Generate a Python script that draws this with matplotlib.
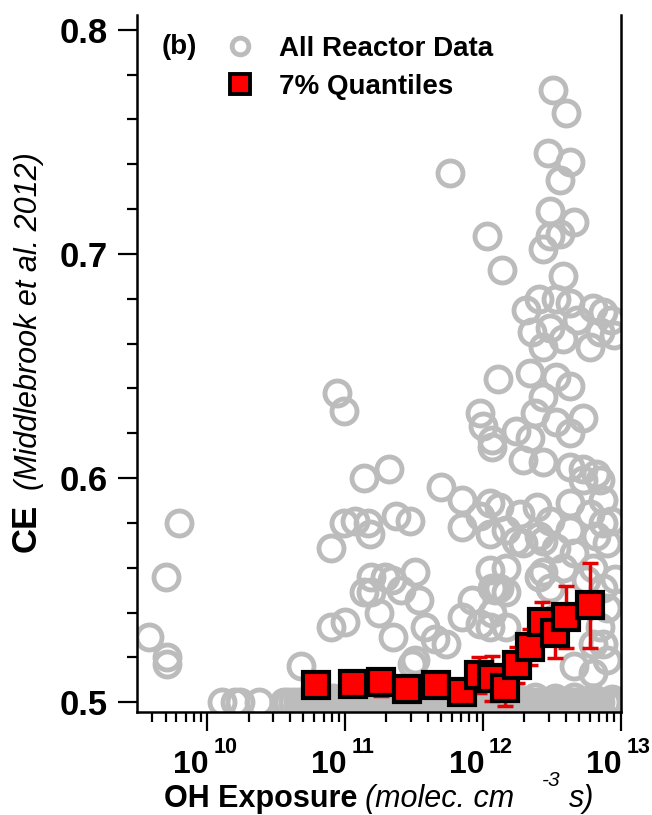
import numpy as np
import matplotlib
matplotlib.use('Agg')
import matplotlib.pyplot as plt
from matplotlib.ticker import MultipleLocator, FormatStrFormatter, LogLocator, NullFormatter
from matplotlib.lines import Line2D
from matplotlib.patches import Rectangle

plt.rcParams['font.family'] = ['Liberation Sans', 'DejaVu Sans']

# all reactor data, scattered points (log10 OH exposure, CE)
scatter_log_oh = [
    9.58, 9.71, 9.71, 9.70, 9.80, 10.68, 10.94, 10.99, 11.14, 11.32,
    10.90, 10.99, 11.07, 11.17, 11.18, 11.37, 11.47, 11.19, 11.19, 11.34,
    11.41, 11.51, 11.54, 11.25, 10.90, 11.00, 11.35, 11.58, 11.65, 11.73,
    11.49, 11.70, 11.85, 11.85, 11.98, 12.05, 12.05, 11.98, 12.00, 12.07,
    12.11, 12.05, 11.92, 11.98, 11.85, 12.09, 12.05, 11.14, 11.29, 11.51,
    12.12, 12.41, 11.76, 12.03, 12.14, 12.51, 12.60, 12.47, 12.63, 12.56,
    12.49, 12.66, 12.49, 12.56, 12.44, 12.58, 12.31, 12.41, 12.53, 12.63,
    12.80, 12.87, 12.85, 12.78, 12.36, 12.49, 12.58, 12.44, 12.68, 12.93,
    12.95, 12.34, 12.44, 12.63, 12.53, 12.07, 12.24, 12.34, 12.38, 12.53,
    12.63, 12.73, 12.29, 12.44, 12.63, 12.73, 12.82, 12.12, 12.27, 12.39,
    12.49, 12.63, 12.78, 12.87, 12.87, 12.82, 12.63, 12.44, 12.24, 12.93,
    12.90, 12.73, 12.85, 12.17, 12.29, 12.17, 12.07, 12.17, 12.07, 12.17,
    12.44, 12.49, 12.58, 12.66, 12.53, 12.41, 12.75, 12.80, 12.87, 12.90,
    12.85, 12.80, 12.87, 12.90, 12.66, 12.80, 12.51, 12.96,
]
scatter_ce = [
    0.529, 0.520, 0.517, 0.556, 0.580, 0.516, 0.638, 0.630, 0.600, 0.604,
    0.569, 0.580, 0.581, 0.580, 0.575, 0.583, 0.581, 0.556, 0.549, 0.5545,
    0.550, 0.558, 0.5455, 0.540, 0.5335, 0.536, 0.529, 0.5335, 0.528, 0.526,
    0.517, 0.596, 0.590, 0.578, 0.583, 0.589, 0.575, 0.629, 0.623, 0.614,
    0.644, 0.559, 0.5455, 0.535, 0.538, 0.550, 0.5335, 0.549, 0.556, 0.519,
    0.551, 0.556, 0.736, 0.708, 0.693, 0.773, 0.763, 0.745, 0.741, 0.733,
    0.719, 0.714, 0.708, 0.709, 0.702, 0.690, 0.675, 0.680, 0.680, 0.678,
    0.676, 0.674, 0.665, 0.6585, 0.665, 0.667, 0.662, 0.6585, 0.6705, 0.6705,
    0.664, 0.647, 0.636, 0.641, 0.645, 0.617, 0.621, 0.618, 0.629, 0.625,
    0.620, 0.627, 0.608, 0.607, 0.605, 0.604, 0.602, 0.587, 0.584, 0.587,
    0.581, 0.589, 0.584, 0.590, 0.580, 0.574, 0.577, 0.572, 0.572, 0.581,
    0.571, 0.599, 0.599, 0.577, 0.571, 0.560, 0.551, 0.549, 0.540, 0.5335,
    0.558, 0.551, 0.560, 0.5665, 0.569, 0.574, 0.5545, 0.560, 0.551, 0.542,
    0.5335, 0.526, 0.526, 0.519, 0.516, 0.513, 0.537, 0.555,
]

# all reactor data sitting on (or just above) CE = 0.5
band_log_oh = [
    10.11, 10.20, 10.24, 10.38, 10.56, 10.59, 10.62, 10.66, 10.69,
    10.72, 10.75, 10.79, 10.82, 10.86, 10.89, 10.93, 10.96, 11.00, 11.03,
    11.07, 11.10, 11.14, 11.17, 11.21, 11.24, 11.28, 11.31, 11.35, 11.38,
    11.42, 11.45, 11.49, 11.52, 11.56, 11.59, 11.63, 11.66, 11.70, 11.73,
    11.77, 11.80, 11.84, 11.87, 11.91, 11.94, 11.98, 12.01, 12.05, 12.08,
    12.12, 12.15, 12.19, 12.22, 12.26, 12.29, 12.33, 12.36, 12.40, 12.43,
    12.47, 12.50, 12.54, 12.57, 12.61, 12.64, 12.68, 12.71, 12.75, 12.78,
    12.82, 12.85, 12.89, 12.92, 12.96, 12.99, 13.02,
]
band_ce = [0.5] * len(band_log_oh)
band2_log_oh = [10.77, 10.91, 11.05, 11.22, 11.40, 11.57, 11.75, 11.93,
                12.10, 12.24, 12.38, 12.52, 12.66, 12.80, 12.94]
band2_ce = [0.5015, 0.502, 0.5012, 0.5018, 0.5015, 0.502, 0.5014, 0.5022,
            0.5016, 0.502, 0.5025, 0.5018, 0.5022, 0.502, 0.5015]

# 7% quantiles
quant_log_oh = [10.79, 11.06, 11.26, 11.45, 11.66, 11.85, 11.97, 12.07,
                12.16, 12.25, 12.34, 12.43, 12.52, 12.60, 12.78]
quant_ce = [0.5076, 0.508, 0.5089, 0.5058, 0.5076, 0.5045, 0.512, 0.5107,
            0.5063, 0.5165, 0.5246, 0.5357, 0.5308, 0.538, 0.5433]
quant_err = [0.003, 0.003, 0.006, 0.004, 0.004, 0.004, 0.008, 0.010,
             0.008, 0.008, 0.008, 0.009, 0.011, 0.014, 0.019]

xtick_exponents = [10, 11, 12, 13]

gray = '#bcbcbc'

fig = plt.figure(figsize=(6.52, 8.15), dpi=100)
ax = fig.add_axes([0.210, 0.126, 0.742, 0.856])

# circles may spill past the right edge, not below the x axis
clip = Rectangle((-0.05, 0.0), 1.1, 1.1, transform=ax.transAxes,
                 fc='none', ec='none')

ax.plot(10 ** np.array(scatter_log_oh), scatter_ce, 'o', ls='none', mfc='none',
        mec=gray, ms=18, mew=3.5, zorder=2, clip_path=clip)
ax.plot(10 ** np.array(band_log_oh), band_ce, 'o', ls='none', mfc='none',
        mec=gray, ms=18, mew=3.5, zorder=2, clip_path=clip)
ax.plot(10 ** np.array(band2_log_oh), band2_ce, 'o', ls='none', mfc='none',
        mec=gray, ms=18, mew=3.5, zorder=2, clip_path=clip)

qx = 10 ** np.array(quant_log_oh)
ax.errorbar(qx, quant_ce, yerr=quant_err, fmt='none', ecolor='#e60000',
            elinewidth=2.5, capsize=6, capthick=2.5, zorder=3)
ax.plot(qx, quant_ce, 's', ls='none', mfc='#ff0000', mec='black', ms=19,
        mew=3, zorder=4)

ax.set_xscale('log')
ax.set_xlim(3.1e9, 1e13)
ax.set_ylim(0.4955, 0.8067)

ax.spines['top'].set_visible(False)
for s in ['left', 'bottom', 'right']:
    ax.spines[s].set_linewidth(1.8)

ax.xaxis.set_major_locator(LogLocator(base=10, numticks=10))
ax.xaxis.set_minor_locator(LogLocator(base=10, subs=np.arange(2, 10), numticks=20))
ax.xaxis.set_major_formatter(NullFormatter())
ax.xaxis.set_minor_formatter(NullFormatter())
ax.yaxis.set_major_locator(MultipleLocator(0.1))
ax.yaxis.set_minor_locator(MultipleLocator(0.02))
ax.yaxis.set_major_formatter(FormatStrFormatter('%.1f'))
ax.tick_params(which='major', length=14, width=1.6, direction='out')
ax.tick_params(which='minor', length=7, width=1.6, direction='out')
ax.tick_params(axis='y', which='major', labelsize=25, pad=7)
ax.tick_params(right=False, top=False, which='both')
for lab in ax.get_yticklabels():
    lab.set_fontweight('bold')

# x tick labels drawn as "10" with a raised exponent
for e in xtick_exponents:
    ax.annotate('10', xy=(10.0 ** e, 0), xycoords=('data', 'axes fraction'),
                xytext=(1, -44), textcoords='offset points', ha='right',
                va='baseline', fontsize=23, fontweight='bold',
                annotation_clip=False)
    ax.annotate(str(e), xy=(10.0 ** e, 0), xycoords=('data', 'axes fraction'),
                xytext=(4.5, -29), textcoords='offset points', ha='left',
                va='baseline', fontsize=15.5, fontweight='bold',
                annotation_clip=False)

# x label: bold part + italic units
ax.text(0.455, -0.1363, 'OH Exposure', ha='right', va='baseline',
        fontsize=22, fontweight='bold', transform=ax.transAxes)
ax.text(0.472, -0.1363, '(molec. cm', ha='left', va='baseline',
        fontsize=22, fontstyle='italic', transform=ax.transAxes)
ax.text(0.838, -0.106, '-3', ha='left', va='baseline',
        fontsize=15, fontstyle='italic', transform=ax.transAxes)
ax.text(0.893, -0.1363, 's)', ha='left', va='baseline',
        fontsize=22, fontstyle='italic', transform=ax.transAxes)

# y label: bold CE + italic citation
ax.text(-0.194, 0.230, 'CE', rotation=90, ha='right', va='bottom',
        fontsize=25, fontweight='bold', transform=ax.transAxes)
ax.text(-0.192, 0.318, '(Middlebrook et al. 2012)', rotation=90, ha='right',
        va='bottom', fontsize=22, fontstyle='italic', transform=ax.transAxes)

ax.text(0.052, 0.954, '(b)', fontsize=20, fontweight='bold', va='center',
        transform=ax.transAxes)
handles = [
    Line2D([], [], marker='o', ls='none', mfc='none', mec=gray, ms=12, mew=3.5),
    Line2D([], [], marker='s', ls='none', mfc='#ff0000', mec='black', ms=14, mew=2.8),
]
ax.legend(handles, ['All Reactor Data', '7% Quantiles'], loc='upper left',
          bbox_to_anchor=(0.139, 0.99), frameon=False, handletextpad=0.6,
          handlelength=1.6, labelspacing=0.45, borderaxespad=0.1,
          prop={'weight': 'bold', 'size': 20})

fig.savefig('out.png', dpi=100)
